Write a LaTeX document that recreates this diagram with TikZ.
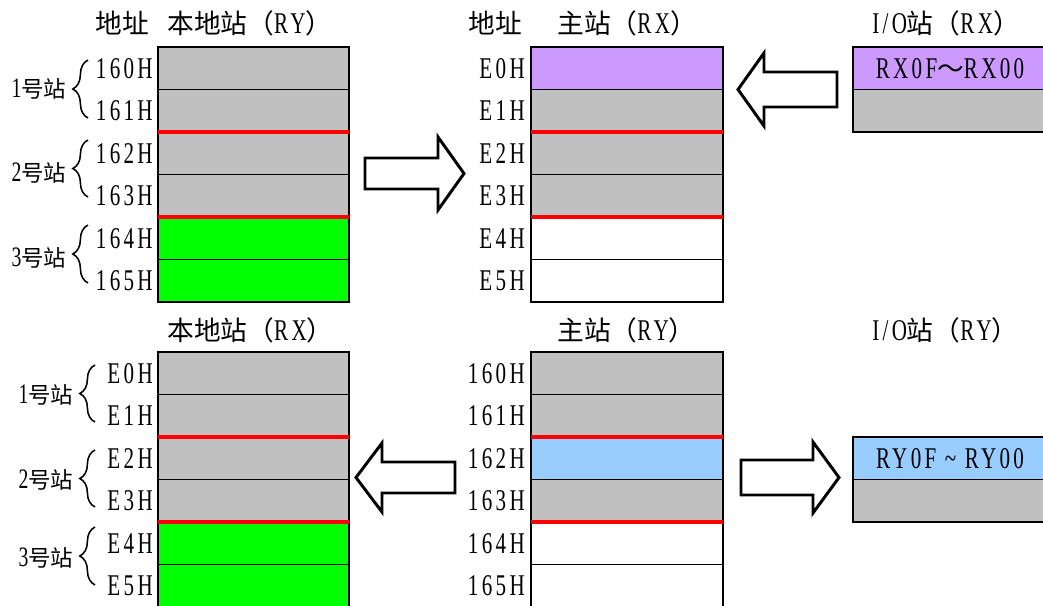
\documentclass[tikz,border=0pt]{standalone}
\usepackage{fontspec}
\setmainfont{Liberation Serif}[FakeStretch=0.7,LetterSpace=11]
\newfontfamily\cjk{Noto Sans CJK SC}
\usetikzlibrary{decorations.pathreplacing}
\definecolor{regGray}{HTML}{C0C0C0}
\definecolor{regGreen}{HTML}{00FF00}
\definecolor{regPurple}{HTML}{CC99FF}
\definecolor{regBlue}{HTML}{99CCFF}
\newcommand{\zh}[1]{{\cjk\fontsize{19}{22}\selectfont #1}}
\newcommand{\zhs}[1]{{\cjk\fontsize{16}{18}\selectfont #1}}

\begin{document}
\begin{tikzpicture}[x=0.025cm,y=-0.025cm,
    cell/.style={draw=black,line width=1.4pt},
    bank/.style={draw=black,line width=2.1pt},
    stationsep/.style={draw=red,line width=2.8pt},
    addr/.style={anchor=east,inner sep=0pt,font=\fontsize{21.4}{24}\selectfont},
    title/.style={anchor=west,inner sep=0pt,font=\fontsize{21.4}{24}\selectfont},
    stn/.style={inner sep=0pt,font=\fontsize{20}{22}\selectfont},
    curly/.style={decorate,decoration={brace,amplitude=0.38cm},line width=1.1pt},
    hollow/.style={draw=black,fill=white,line width=2.1pt,line join=miter}]
\useasboundingbox (0,0) rectangle (1043,605);
\clip (0,0) rectangle (1043,605);

% column titles
\node[title] (hAddrL) at (95,23) {\zh{地址}};
\node[title] (hLocalRY) at (167,23) {\zh{本地站（}RY\zh{）}};
\node[title] (hAddrM) at (468,23) {\zh{地址}};
\node[title] (hMasterRX) at (557,23) {\zh{主站（}RX\zh{）}};
\node[title] (hIoRX) at (872,23) {I/O\zh{站（}RX\zh{）}};
\node[title] (hLocalRX) at (167,330) {\zh{本地站（}RX\zh{）}};
\node[title] (hMasterRY) at (557,330) {\zh{主站（}RY\zh{）}};
\node[title] (hIoRY) at (872,330) {I/O\zh{站（}RY\zh{）}};

% local station RY (top left)
\foreach \r/\c in {0/regGray,1/regGray,2/regGray,3/regGray,4/regGreen,5/regGreen}
    \draw[cell,fill=\c] (158,47+\r*42.5) rectangle (349,89.5+\r*42.5);
\draw[bank] (158,47) rectangle (349,302);
\foreach \y in {132,217} \draw[stationsep] (158,\y) -- (349,\y);
\foreach \i/\t in {0/160H,1/161H,2/162H,3/163H,4/164H,5/165H}
    \node[addr] (tl\i) at (153,68.25+\i*42.5) {\t};

% master RX (top middle)
\foreach \r/\c in {0/regPurple,1/regGray,2/regGray,3/regGray,4/white,5/white}
    \draw[cell,fill=\c] (531,47+\r*42.5) rectangle (723,89.5+\r*42.5);
\draw[bank] (531,47) rectangle (723,302);
\foreach \y in {132,217} \draw[stationsep] (531,\y) -- (723,\y);
\foreach \i/\t in {0/E0H,1/E1H,2/E2H,3/E3H,4/E4H,5/E5H}
    \node[addr] (tm\i) at (525,68.25+\i*42.5) {\t};

% I/O station RX (top right)
\foreach \r/\c in {0/regPurple,1/regGray}
    \draw[cell,fill=\c] (853,47+\r*42.5) rectangle (1060,89.5+\r*42.5);
\draw[bank] (853,47) rectangle (1060,132);
\node[addr,anchor=center] (ioRX) at (950,68.25) {RX0F\zh{～}RX00};

% local station RX (bottom left)
\foreach \r/\c in {0/regGray,1/regGray,2/regGray,3/regGray,4/regGreen,5/regGreen}
    \draw[cell,fill=\c] (158,352+\r*42.5) rectangle (349,394.5+\r*42.5);
\draw[bank] (158,352) rectangle (349,607);
\foreach \y in {437,522} \draw[stationsep] (158,\y) -- (349,\y);
\foreach \i/\t in {0/E0H,1/E1H,2/E2H,3/E3H,4/E4H,5/E5H}
    \node[addr] (bl\i) at (153,373.25+\i*42.5) {\t};

% master RY (bottom middle)
\foreach \r/\c in {0/regGray,1/regGray,2/regBlue,3/regGray,4/white,5/white}
    \draw[cell,fill=\c] (531,352+\r*42.5) rectangle (723,394.5+\r*42.5);
\draw[bank] (531,352) rectangle (723,607);
\foreach \y in {437,522} \draw[stationsep] (531,\y) -- (723,\y);
\foreach \i/\t in {0/160H,1/161H,2/162H,3/163H,4/164H,5/165H}
    \node[addr] (bm\i) at (525,373.25+\i*42.5) {\t};

% I/O station RY (bottom right)
\foreach \r/\c in {0/regBlue,1/regGray}
    \draw[cell,fill=\c] (853,437+\r*42.5) rectangle (1060,479.5+\r*42.5);
\draw[bank] (853,437) rectangle (1060,522);
\node[addr,anchor=center] (ioRY) at (950,458.25) {RY0F \textasciitilde{} RY00};

% station braces
\foreach \n/\ya/\yb/\yt in {1/60/118/89,2/140/197/173,3/225/283/258} {
    \draw[curly] (88,\yb) -- (88,\ya);
    \node[stn] (st\n) at (39,\yt) {\n\zhs{号站}};
}
\foreach \n/\ya/\yb/\yt in {1/365/422/395,2/450/507/480,3/527/585/558} {
    \draw[curly] (95,\yb) -- (95,\ya);
    \node[stn] (sb\n) at (46,\yt) {\n\zhs{号站}};
}

% transfer arrows
\draw[hollow] (365,158) -- (438,158) -- (438,137) -- (464,173.5) -- (438,210) -- (438,189) -- (365,189) -- cycle;
\draw[hollow] (837,72) -- (764,72) -- (764,53) -- (738,89.5) -- (764,126) -- (764,107) -- (837,107) -- cycle;
\draw[hollow] (455,462) -- (382,462) -- (382,443) -- (356,477.5) -- (382,512) -- (382,493) -- (455,493) -- cycle;
\draw[hollow] (741,460) -- (813,460) -- (813,442) -- (839,477.5) -- (813,513) -- (813,495) -- (741,495) -- cycle;
\end{tikzpicture}
\end{document}
